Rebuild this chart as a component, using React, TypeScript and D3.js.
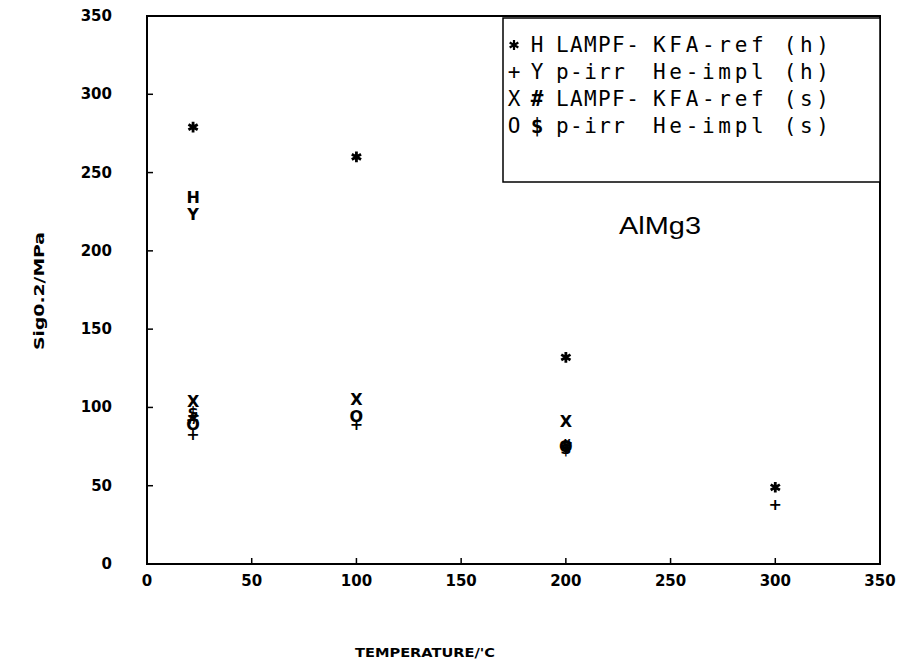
import React from "react";
import * as d3 from "d3";

const xTicks = [0, 50, 100, 150, 200, 250, 300, 350];
const yTicks = [0, 50, 100, 150, 200, 250, 300, 350];

// series: symbol glyph, temperatures, values
const starT = [22, 100, 200, 300];
const starV = [279, 260, 132, 49];
const hT = [22];
const hV = [234];
const plusT = [22, 100, 200, 300];
const plusV = [83, 89, 74, 38];
const yT = [22];
const yV = [223];
const xT = [22, 100, 200];
const xV = [104, 105, 91];
const hashT = [22, 200];
const hashV = [93, 76];
const oT = [22, 100, 200];
const oV = [89, 94, 75];
const dollarT = [22, 200];
const dollarV = [97, 74];

const legendRows = [
  ["*", "H", "LAMPF-", "KFA-ref", "(h)"],
  ["+", "Y", "p-irr", "He-impl", "(h)"],
  ["X", "#", "LAMPF-", "KFA-ref", "(s)"],
  ["O", "$", "p-irr", "He-impl", "(s)"],
];

const series = [
  { sym: "*", t: starT, v: starV },
  { sym: "H", t: hT, v: hV },
  { sym: "+", t: plusT, v: plusV },
  { sym: "Y", t: yT, v: yV },
  { sym: "X", t: xT, v: xV },
  { sym: "#", t: hashT, v: hashV },
  { sym: "O", t: oT, v: oV },
  { sym: "$", t: dollarT, v: dollarV },
];

const L = 147, R = 880, T = 16, B = 564;
const FONT = "'DejaVu Sans', 'Liberation Sans', Arial, sans-serif";
const MONO = "'DejaVu Sans Mono', 'Liberation Mono', monospace";
const LFONT = "'Liberation Sans', Arial, sans-serif";

export default function App() {
  const x = d3.scaleLinear().domain([0, 350]).range([L, R]);
  const y = d3.scaleLinear().domain([0, 350]).range([B, T]);
  const star = d3.symbol().type(d3.symbolAsterisk).size(80)();
  const starL = d3.symbol().type(d3.symbolAsterisk).size(70)();

  const marks: JSX.Element[] = [];
  series.forEach((s, si) => {
    s.t.forEach((t, i) => {
      const cx = x(t), cy = y(s.v[i]);
      if (s.sym === "*") {
        marks.push(
          <path key={`${si}-${i}`} d={star as string} transform={`translate(${cx},${cy})`} fill="none" stroke="#000" strokeWidth={2.8} />
        );
      } else {
        marks.push(
          <text key={`${si}-${i}`} x={cx} y={cy} textAnchor="middle" dominantBaseline="central"
            fontSize={16} fontWeight="bold" fontFamily={FONT}>{s.sym}</text>
        );
      }
    });
  });

  return (
    <svg width={901} height={668} style={{ position: "absolute", left: 0, top: 0, background: "#fff" }}>
      <rect x={0} y={0} width={901} height={668} fill="#fff" />
      <rect x={L} y={T} width={R - L} height={B - T} fill="none" stroke="#000" strokeWidth={2} />
      {xTicks.map((t) => (
        <g key={"xt" + t}>
          <line x1={x(t)} x2={x(t)} y1={B} y2={B - 6} stroke="#000" strokeWidth={1.5} />
          <text x={x(t)} y={B + 22} textAnchor="middle" fontSize={15} fontWeight="bold" fontFamily={FONT}>{t}</text>
        </g>
      ))}
      {yTicks.map((t) => (
        <g key={"yt" + t}>
          <line x1={L} x2={L + 6} y1={y(t)} y2={y(t)} stroke="#000" strokeWidth={1.5} />
          <text x={112} y={y(t)} textAnchor="end" dominantBaseline="central" fontSize={15} fontWeight="bold" fontFamily={FONT}>{t}</text>
        </g>
      ))}
      <text x={425} y={657} textAnchor="middle" fontSize={13} fontWeight="bold" fontFamily={FONT} textLength={140} lengthAdjust="spacingAndGlyphs">TEMPERATURE/'C</text>
      <text transform={`translate(39,${291}) rotate(-90)`} textAnchor="middle" dominantBaseline="central" fontSize={14} fontWeight="bold" fontFamily={FONT} textLength={118} lengthAdjust="spacingAndGlyphs">Sig0.2/MPa</text>

      <rect x={503} y={18} width={R - 503} height={164} fill="#fff" stroke="#000" strokeWidth={1.5} />
      {legendRows.map((r, i) => {
        const ry = 45 + i * 27;
        return (
          <g key={"lg" + i} fontFamily={MONO} fontSize={21}>
            {r[0] === "*" ? (
              <path d={starL as string} transform={`translate(514,${ry})`} fill="none" stroke="#000" strokeWidth={2.2} />
            ) : (
              <text x={514} y={ry} textAnchor="middle" dominantBaseline="central">{r[0]}</text>
            )}
            <text x={537} y={ry} textAnchor="middle" dominantBaseline="central" fontWeight={r[1] === "#" || r[1] === "$" ? "bold" : "normal"}>{r[1]}</text>
            <text x={556} y={ry} dominantBaseline="central" textLength={r[2].length * 13.8} lengthAdjust="spacing">{r[2]}</text>
            <text x={653} y={ry} dominantBaseline="central" textLength={176} lengthAdjust="spacing">{`${r[3]} ${r[4]}`}</text>
          </g>
        );
      })}
      <text x={660} y={226} textAnchor="middle" dominantBaseline="central" fontSize={23} fontFamily={LFONT} textLength={82} lengthAdjust="spacingAndGlyphs">AlMg3</text>
      {marks}
    </svg>
  );
}
